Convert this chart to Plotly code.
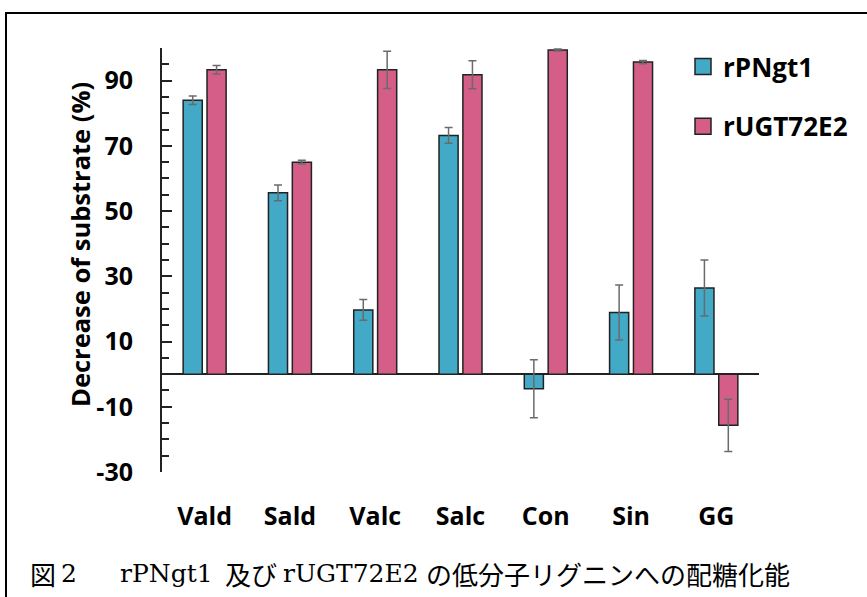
import plotly.graph_objects as go

# Substrates and measured decrease (%) with standard deviations
substrates = ["Vald", "Sald", "Valc", "Salc", "Con", "Sin", "GG"]
pngt1_mean = [84.0, 55.6, 19.7, 73.2, -4.5, 18.9, 26.4]
pngt1_sd = [1.3, 2.4, 3.2, 2.4, 8.9, 8.4, 8.6]
ugt_mean = [93.3, 65.0, 93.3, 91.8, 99.4, 95.7, -15.7]
ugt_sd = [1.3, 0.6, 5.7, 4.3, 0.3, 0.5, 8.0]

series_names = ["rPNgt1", "rUGT72E2"]
y_tick_values = [-30, -10, 10, 30, 50, 70, 90]

BLUE = "#42A9C6"
PINK = "#D45E87"
EDGE = "#222222"
W, H = 867, 597
L, R, T, B = 162, 108, 48, 125

bold_font = "Open Sans, Noto Sans, sans-serif"
serif = "DejaVu Serif, Liberation Serif, serif"
jp = "Noto Sans CJK JP"

fig = go.Figure()
for name, mean, sd, col in [
    (series_names[0], pngt1_mean, pngt1_sd, BLUE),
    (series_names[1], ugt_mean, ugt_sd, PINK),
]:
    fig.add_trace(go.Bar(
        name=name, x=substrates, y=mean, showlegend=False,
        marker=dict(color=col, line=dict(color=EDGE, width=1.5)),
        error_y=dict(type="data", array=sd, visible=True,
                     color="#6b6b6b", thickness=1.5, width=4),
    ))
    # legend entry with a larger square swatch
    fig.add_trace(go.Scatter(
        name=name, x=[None], y=[None], mode="markers", legendgroup=name,
        marker=dict(symbol="square", size=18, color=col,
                    line=dict(color=EDGE, width=1.5)),
    ))

pw = W - L - R
ph = H - T - B


def px_x(px):
    return (px - L) / pw


def px_y(py):
    return (H - B - py) / ph


fig.update_layout(
    width=W, height=H,
    margin=dict(l=L, r=R, t=T, b=B),
    paper_bgcolor="white", plot_bgcolor="white",
    barmode="group", bargap=0.44, bargroupgap=0.2,
    showlegend=True,
    legend=dict(
        x=px_x(683), y=px_y(43), xanchor="left", yanchor="top",
        font=dict(family=bold_font, size=26, color="black", weight="bold"),
        traceorder="grouped", tracegroupgap=23, itemsizing="trace",
        bgcolor="rgba(0,0,0,0)",
    ),
    xaxis=dict(
        showline=False, ticks="", showgrid=False,
        tickfont=dict(family=bold_font, size=25, color="black", weight="bold"),
        ticklabelstandoff=27,
    ),
    yaxis=dict(
        range=[-30, 100], showgrid=False,
        showline=True, linecolor=EDGE, linewidth=2,
        zeroline=True, zerolinecolor=EDGE, zerolinewidth=1.5,
        ticks="inside", ticklen=10, tickwidth=2, tickcolor=EDGE,
        tickvals=y_tick_values,
        ticktext=[str(v) for v in y_tick_values],
        tickfont=dict(family=bold_font, size=25, color="black", weight="bold"),
        ticklabelstandoff=22,
        minor=dict(ticks="inside", ticklen=7, tickwidth=2, tickcolor=EDGE,
                   dtick=5, tick0=0),
    ),
)

# Axis title
fig.add_annotation(
    text="Decrease of substrate (%)", textangle=-90,
    xref="paper", yref="paper", x=px_x(61), y=px_y(245),
    showarrow=False,
    font=dict(family=bold_font, size=25.5, color="black", weight="bold"),
)

# Figure caption: serif latin runs and gothic Japanese runs
caption_parts = [
    ("図", jp, 28),
    ("2", serif, 59),
    ("rPNgt1", serif, 118),
    ("及び", jp, 223),
    ("rUGT72E2", serif, 281),
    ("の低分子リグニンへの配糖化能", jp, 424),
]
for text, fam, xpos in caption_parts:
    fig.add_annotation(
        text=text, xref="paper", yref="paper",
        x=px_x(xpos), y=px_y(573), xanchor="left", yanchor="middle",
        showarrow=False, font=dict(family=fam, size=26 if fam == jp else 25,
                                   color="black"),
    )

# Outer frame
fig.add_shape(
    type="rect", xref="paper", yref="paper",
    x0=px_x(6), x1=px_x(W + 10), y0=px_y(H + 10), y1=px_y(13),
    line=dict(color="black", width=2), layer="above",
)

fig.write_html("out.html")
